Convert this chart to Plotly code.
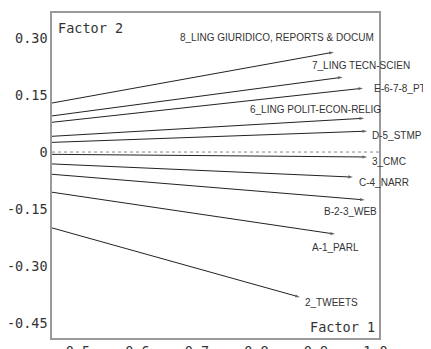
import plotly.graph_objects as go

labels = ["8_LING GIURIDICO, REPORTS & DOCUM", "7_LING TECN-SCIEN", "E-6-7-8_PTG",
          "6_LING POLIT-ECON-RELIG", "D-5_STMP", "3_CMC", "C-4_NARR",
          "B-2-3_WEB", "A-1_PARL", "2_TWEETS"]
factor1 = [0.930, 0.945, 0.979, 0.981, 0.986, 0.986, 0.962, 0.982, 0.932, 0.873]
factor2 = [0.263, 0.197, 0.168, 0.089, 0.055, -0.013, -0.066, -0.126, -0.216, -0.382]

x_ticks = [0.5, 0.6, 0.7, 0.8, 0.9, 1.0]
x_ticktext = ["0.5", "0.6", "0.7", "0.8", "0.9", "1.0"]
y_ticks = [0.30, 0.15, 0.0, -0.15, -0.30, -0.45]
y_ticktext = ["0.30", "0.15", "0", "-0.15", "-0.30", "-0.45"]

# label placement (anchor, x shift px, y shift px)
label_pos = [("center", -57, 14.5), ("center", 18, 12), ("left", 9, 0),
             ("center", -48.5, 9), ("left", 3, -4), ("left", 3, -5),
             ("left", 4, -5), ("center", -14.5, -12), ("center", 0, -13),
             ("left", 3, -5)]

LINE = "#222222"
FRAME = "#9a9a9a"
LABEL_FONT = dict(family="Liberation Sans, Arial", size=10, color="#333333")
MONO = dict(family="DejaVu Sans Mono, monospace", size=13.5, color="#333333")
X_RANGE = [0.4563, 1.0059]
Y_RANGE = [-0.4895, 0.366]

fig = go.Figure()
for name, x1, y1 in zip(labels, factor1, factor2):
    fig.add_trace(go.Scatter(
        x=[0, x1], y=[0, y1], mode="lines+markers",
        line=dict(color=LINE, width=1),
        marker=dict(symbol=["circle", "arrow"], size=[0, 5], angleref="previous",
                    color=LINE, line=dict(width=0)),
        hoverinfo="skip", showlegend=False))

for name, x1, y1, (anc, dx, dy) in zip(labels, factor1, factor2, label_pos):
    fig.add_annotation(x=x1, y=y1, text=name, showarrow=False, xanchor=anc,
                       yanchor="middle", xshift=dx, yshift=dy, font=LABEL_FONT)

fig.add_annotation(xref="paper", yref="paper", x=0, y=1, text="Factor 2", showarrow=False,
                   xanchor="left", yanchor="middle", xshift=4, yshift=-15, font=MONO)
fig.add_annotation(xref="paper", yref="paper", x=1, y=0, text="Factor 1", showarrow=False,
                   xanchor="right", yanchor="middle", xshift=-2, yshift=11, font=MONO)

fig.add_shape(type="line", xref="paper", yref="y", x0=0, x1=1, y0=0, y1=0,
              line=dict(color="#888888", width=1, dash="dot"))

common = dict(showgrid=False, zeroline=False, automargin=False)
fig.update_layout(
    xaxis=dict(range=X_RANGE, tickvals=x_ticks, ticktext=x_ticktext, ticks="",
               showline=True, mirror=True, linecolor=FRAME, linewidth=1.5,
               tickfont=MONO, **common),
    yaxis=dict(range=Y_RANGE, tickvals=y_ticks, ticktext=y_ticktext, ticks="",
               showline=True, mirror=True, linecolor=FRAME, linewidth=1.5,
               tickfont=MONO, **common),
    # tick marks only (no labels), drawn on overlaying axes
    xaxis2=dict(range=X_RANGE, tickvals=x_ticks, overlaying="x", side="bottom",
                anchor="y", ticks="outside", ticklen=3, tickcolor=FRAME,
                showticklabels=False, showline=False, **common),
    yaxis2=dict(range=Y_RANGE, tickvals=y_ticks, overlaying="y", side="left",
                anchor="x", ticks="outside", ticklen=2, tickcolor=FRAME,
                showticklabels=False, showline=False, **common),
    # the page body has an 8px default margin, so the figure is sized to end at the window edge
    width=423, height=341, margin=dict(l=44, r=52, t=5, b=11, autoexpand=False),
    plot_bgcolor="white", paper_bgcolor="white")
fig.write_html("out.html")
